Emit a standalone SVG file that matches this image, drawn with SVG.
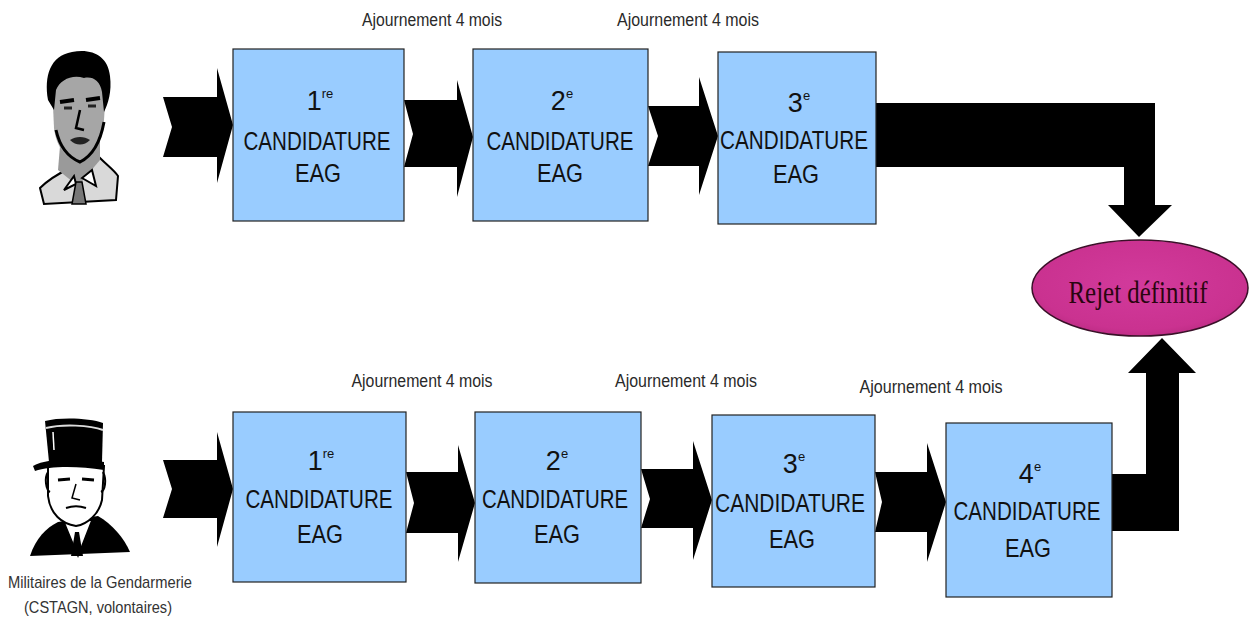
<svg xmlns="http://www.w3.org/2000/svg" width="1252" height="628" viewBox="0 0 1252 628">
  <style>
    .box { fill: #99ccff; stroke: #222; stroke-width: 1.2; }
    .arrow { fill: #000; }
    .lbl { font-family: "Liberation Sans", Arial, sans-serif; font-size: 18px; fill: #2a2a2a; text-anchor: middle; }
    .num { font-family: "Liberation Sans", Arial, sans-serif; font-size: 27px; fill: #111; text-anchor: middle; }
    .sup { font-size: 13px; }
    .cand { font-family: "Liberation Sans", Arial, sans-serif; font-size: 26px; fill: #111; text-anchor: middle; }
    .cap { font-family: "Liberation Sans", Arial, sans-serif; font-size: 17px; fill: #333; text-anchor: middle; }
    .ink { fill: #000; }
  </style>
  <defs>
    <radialGradient id="rejetFill" cx="50%" cy="45%" r="60%">
      <stop offset="0" stop-color="#d23a9c"/>
      <stop offset="0.8" stop-color="#ca3290"/>
      <stop offset="1" stop-color="#b82a80"/>
    </radialGradient>
  </defs>
  <rect width="1252" height="628" fill="#fff"/>

  <!-- civilian candidate portrait -->
  <g id="portrait-civil">
    <path d="M40,188 C52,176 66,170 74,166 L100,158 C108,166 114,170 118,176 L116,200 L44,204 Z" fill="#d9d9d9" stroke="#000" stroke-width="2"/>
    <path d="M60,146 L58,170 L78,186 L100,160 L100,140 Z" fill="#9a9a9a"/>
    <path d="M74,176 L64,190 L76,184 Z M82,178 L96,186 L92,170 Z" fill="#fff" stroke="#000" stroke-width="2"/>
    <path d="M76,182 L72,204 L86,204 L82,182 Z" fill="#777" stroke="#000" stroke-width="1.5"/>
    <path d="M52,84 C52,70 60,64 80,64 C98,64 106,72 106,88 L104,120 C102,140 94,156 80,162 C66,160 56,146 54,128 Z" fill="#a6a6a6"/>
    <path d="M48,100 C44,76 50,56 72,52 C92,48 108,56 110,76 C112,92 108,104 104,112 L102,92 C100,80 92,76 84,78 C72,74 60,80 56,90 L54,110 Z" class="ink"/>
    <path d="M60,102 L74,100 M86,100 L100,98" stroke="#000" stroke-width="4" fill="none"/>
    <path d="M64,108 L72,108 M88,106 L96,106" stroke="#222" stroke-width="3" fill="none"/>
    <path d="M80,110 L76,128 L84,130" stroke="#000" stroke-width="2.5" fill="none"/>
    <path d="M70,140 C76,136 84,136 90,140 C84,146 76,146 70,140 Z" fill="#222"/>
    <path d="M56,130 C60,148 70,158 80,162 C92,156 100,144 104,122" stroke="#000" stroke-width="3" fill="none"/>
  </g>

  <!-- gendarme portrait -->
  <g id="portrait-gendarme">
    <path d="M30,556 C36,538 46,528 58,522 L98,516 C112,524 124,538 130,552 Z" class="ink"/>
    <path d="M64,522 L78,556 L92,520 Z" fill="#fff" stroke="#000" stroke-width="1.5"/>
    <path d="M75,532 L71,556 L83,556 L79,532 Z" class="ink"/>
    <path d="M48,466 L104,466 L102,500 C99,514 88,524 76,526 C62,524 50,514 48,496 Z" fill="#fff" stroke="#000" stroke-width="2"/>
    <path d="M48,472 C44,478 46,490 50,492 M103,472 C107,480 105,490 101,492" stroke="#000" stroke-width="2" fill="none"/>
    <path d="M58,480 L70,479 M82,479 L94,480" stroke="#000" stroke-width="3" fill="none"/>
    <path d="M76,484 L72,498 L80,500" stroke="#000" stroke-width="1.5" fill="none"/>
    <path d="M66,508 C72,506 80,506 86,508" stroke="#000" stroke-width="2" fill="none"/>
    <path d="M49,462 L45,421 C60,417 90,418 103,423 L102,462 Z" class="ink"/>
    <path d="M46,428 C62,424 90,425 103,430" stroke="#ddd" stroke-width="2" fill="none"/>
    <path d="M33,466 C48,458 80,458 104,462 L104,470 C78,466 50,466 35,471 Z" class="ink"/>
    <path d="M53,432 L54,450" stroke="#fff" stroke-width="1.5"/>
    <text class="cap" x="100" y="588" textLength="184" lengthAdjust="spacingAndGlyphs">Militaires de la Gendarmerie</text>
    <text class="cap" x="98" y="613" textLength="148" lengthAdjust="spacingAndGlyphs">(CSTAGN, volontaires)</text>
  </g>

  <!-- connectors: chevron arrows and bent arrows -->
  <g id="connectors">
    <polygon class="arrow" points="163,97 217,97 217,68 233,125 217,183 217,157 163,157 172,127"/>
    <polygon class="arrow" points="404,100 457,100 457,80 473,137 457,197 457,167 404,167 413,134"/>
    <polygon class="arrow" points="648,106 699,106 699,77 718,136 699,195 699,166 648,166 658,136"/>
    <polygon class="arrow" points="876,103 1155,103 1155,205 1172,205 1139,237 1108,205 1124,205 1124,167 876,167"/>

    <polygon class="arrow" points="163,460 217,460 217,432 233,489 217,547 217,518 163,518 172,489"/>
    <polygon class="arrow" points="406,472 458,472 458,445 475,503 458,562 458,533 406,533 414,503"/>
    <polygon class="arrow" points="641,469 693,469 693,441 712,500 693,560 693,528 641,528 650,499"/>
    <polygon class="arrow" points="875,472 927,472 927,443 946,502 927,562 927,532 875,532 882,502"/>
    <polygon class="arrow" points="1112,474 1146,474 1146,373 1128,373 1162,338 1196,373 1179,373 1179,531 1112,531"/>
  </g>

  <!-- delay labels -->
  <g id="labels">
    <text class="lbl" x="432" y="26" textLength="140" lengthAdjust="spacingAndGlyphs">Ajournement 4 mois</text>
    <text class="lbl" x="688" y="26" textLength="142" lengthAdjust="spacingAndGlyphs">Ajournement 4 mois</text>
    <text class="lbl" x="422" y="387" textLength="141" lengthAdjust="spacingAndGlyphs">Ajournement 4 mois</text>
    <text class="lbl" x="686" y="387" textLength="142" lengthAdjust="spacingAndGlyphs">Ajournement 4 mois</text>
    <text class="lbl" x="931" y="393" textLength="143" lengthAdjust="spacingAndGlyphs">Ajournement 4 mois</text>
  </g>

  <!-- first path: three applications -->
  <g id="top-1">
    <rect class="box" x="233" y="49" width="171" height="172"/>
    <text class="num" x="320" y="110">1<tspan class="sup" dy="-12">re</tspan></text>
    <text class="cand" x="317" y="150" textLength="147" lengthAdjust="spacingAndGlyphs">CANDIDATURE</text>
    <text class="cand" x="318" y="182" textLength="46" lengthAdjust="spacingAndGlyphs">EAG</text>
  </g>
  <g id="top-2">
    <rect class="box" x="473" y="49" width="175" height="172"/>
    <text class="num" x="562" y="110">2<tspan class="sup" dy="-12">e</tspan></text>
    <text class="cand" x="560" y="150" textLength="147" lengthAdjust="spacingAndGlyphs">CANDIDATURE</text>
    <text class="cand" x="560" y="182" textLength="46" lengthAdjust="spacingAndGlyphs">EAG</text>
  </g>
  <g id="top-3">
    <rect class="box" x="718" y="52" width="158" height="172"/>
    <text class="num" x="799" y="112">3<tspan class="sup" dy="-12">e</tspan></text>
    <text class="cand" x="794" y="149" textLength="148" lengthAdjust="spacingAndGlyphs">CANDIDATURE</text>
    <text class="cand" x="796" y="183" textLength="46" lengthAdjust="spacingAndGlyphs">EAG</text>
  </g>

  <!-- second path: four applications -->
  <g id="bottom-1">
    <rect class="box" x="233" y="412" width="173" height="170"/>
    <text class="num" x="321" y="470">1<tspan class="sup" dy="-12">re</tspan></text>
    <text class="cand" x="319" y="508" textLength="147" lengthAdjust="spacingAndGlyphs">CANDIDATURE</text>
    <text class="cand" x="320" y="543" textLength="46" lengthAdjust="spacingAndGlyphs">EAG</text>
  </g>
  <g id="bottom-2">
    <rect class="box" x="475" y="412" width="166" height="171"/>
    <text class="num" x="557" y="470">2<tspan class="sup" dy="-12">e</tspan></text>
    <text class="cand" x="555" y="508" textLength="146" lengthAdjust="spacingAndGlyphs">CANDIDATURE</text>
    <text class="cand" x="557" y="543" textLength="46" lengthAdjust="spacingAndGlyphs">EAG</text>
  </g>
  <g id="bottom-3">
    <rect class="box" x="712" y="415" width="163" height="172"/>
    <text class="num" x="794" y="473">3<tspan class="sup" dy="-12">e</tspan></text>
    <text class="cand" x="790" y="512" textLength="150" lengthAdjust="spacingAndGlyphs">CANDIDATURE</text>
    <text class="cand" x="792" y="548" textLength="46" lengthAdjust="spacingAndGlyphs">EAG</text>
  </g>
  <g id="bottom-4">
    <rect class="box" x="946" y="423" width="166" height="174"/>
    <text class="num" x="1030" y="483">4<tspan class="sup" dy="-12">e</tspan></text>
    <text class="cand" x="1027" y="520" textLength="147" lengthAdjust="spacingAndGlyphs">CANDIDATURE</text>
    <text class="cand" x="1028" y="557" textLength="46" lengthAdjust="spacingAndGlyphs">EAG</text>
  </g>

  <!-- final rejection -->
  <g id="rejet">
    <ellipse cx="1140" cy="288" rx="108" ry="48" fill="url(#rejetFill)" stroke="#3a1028" stroke-width="1.5"/>
    <text x="1138" y="303" font-family="'Liberation Serif', 'Times New Roman', serif" font-size="32" fill="#2a0510" text-anchor="middle" textLength="139" lengthAdjust="spacingAndGlyphs">Rejet définitif</text>
  </g>
</svg>
